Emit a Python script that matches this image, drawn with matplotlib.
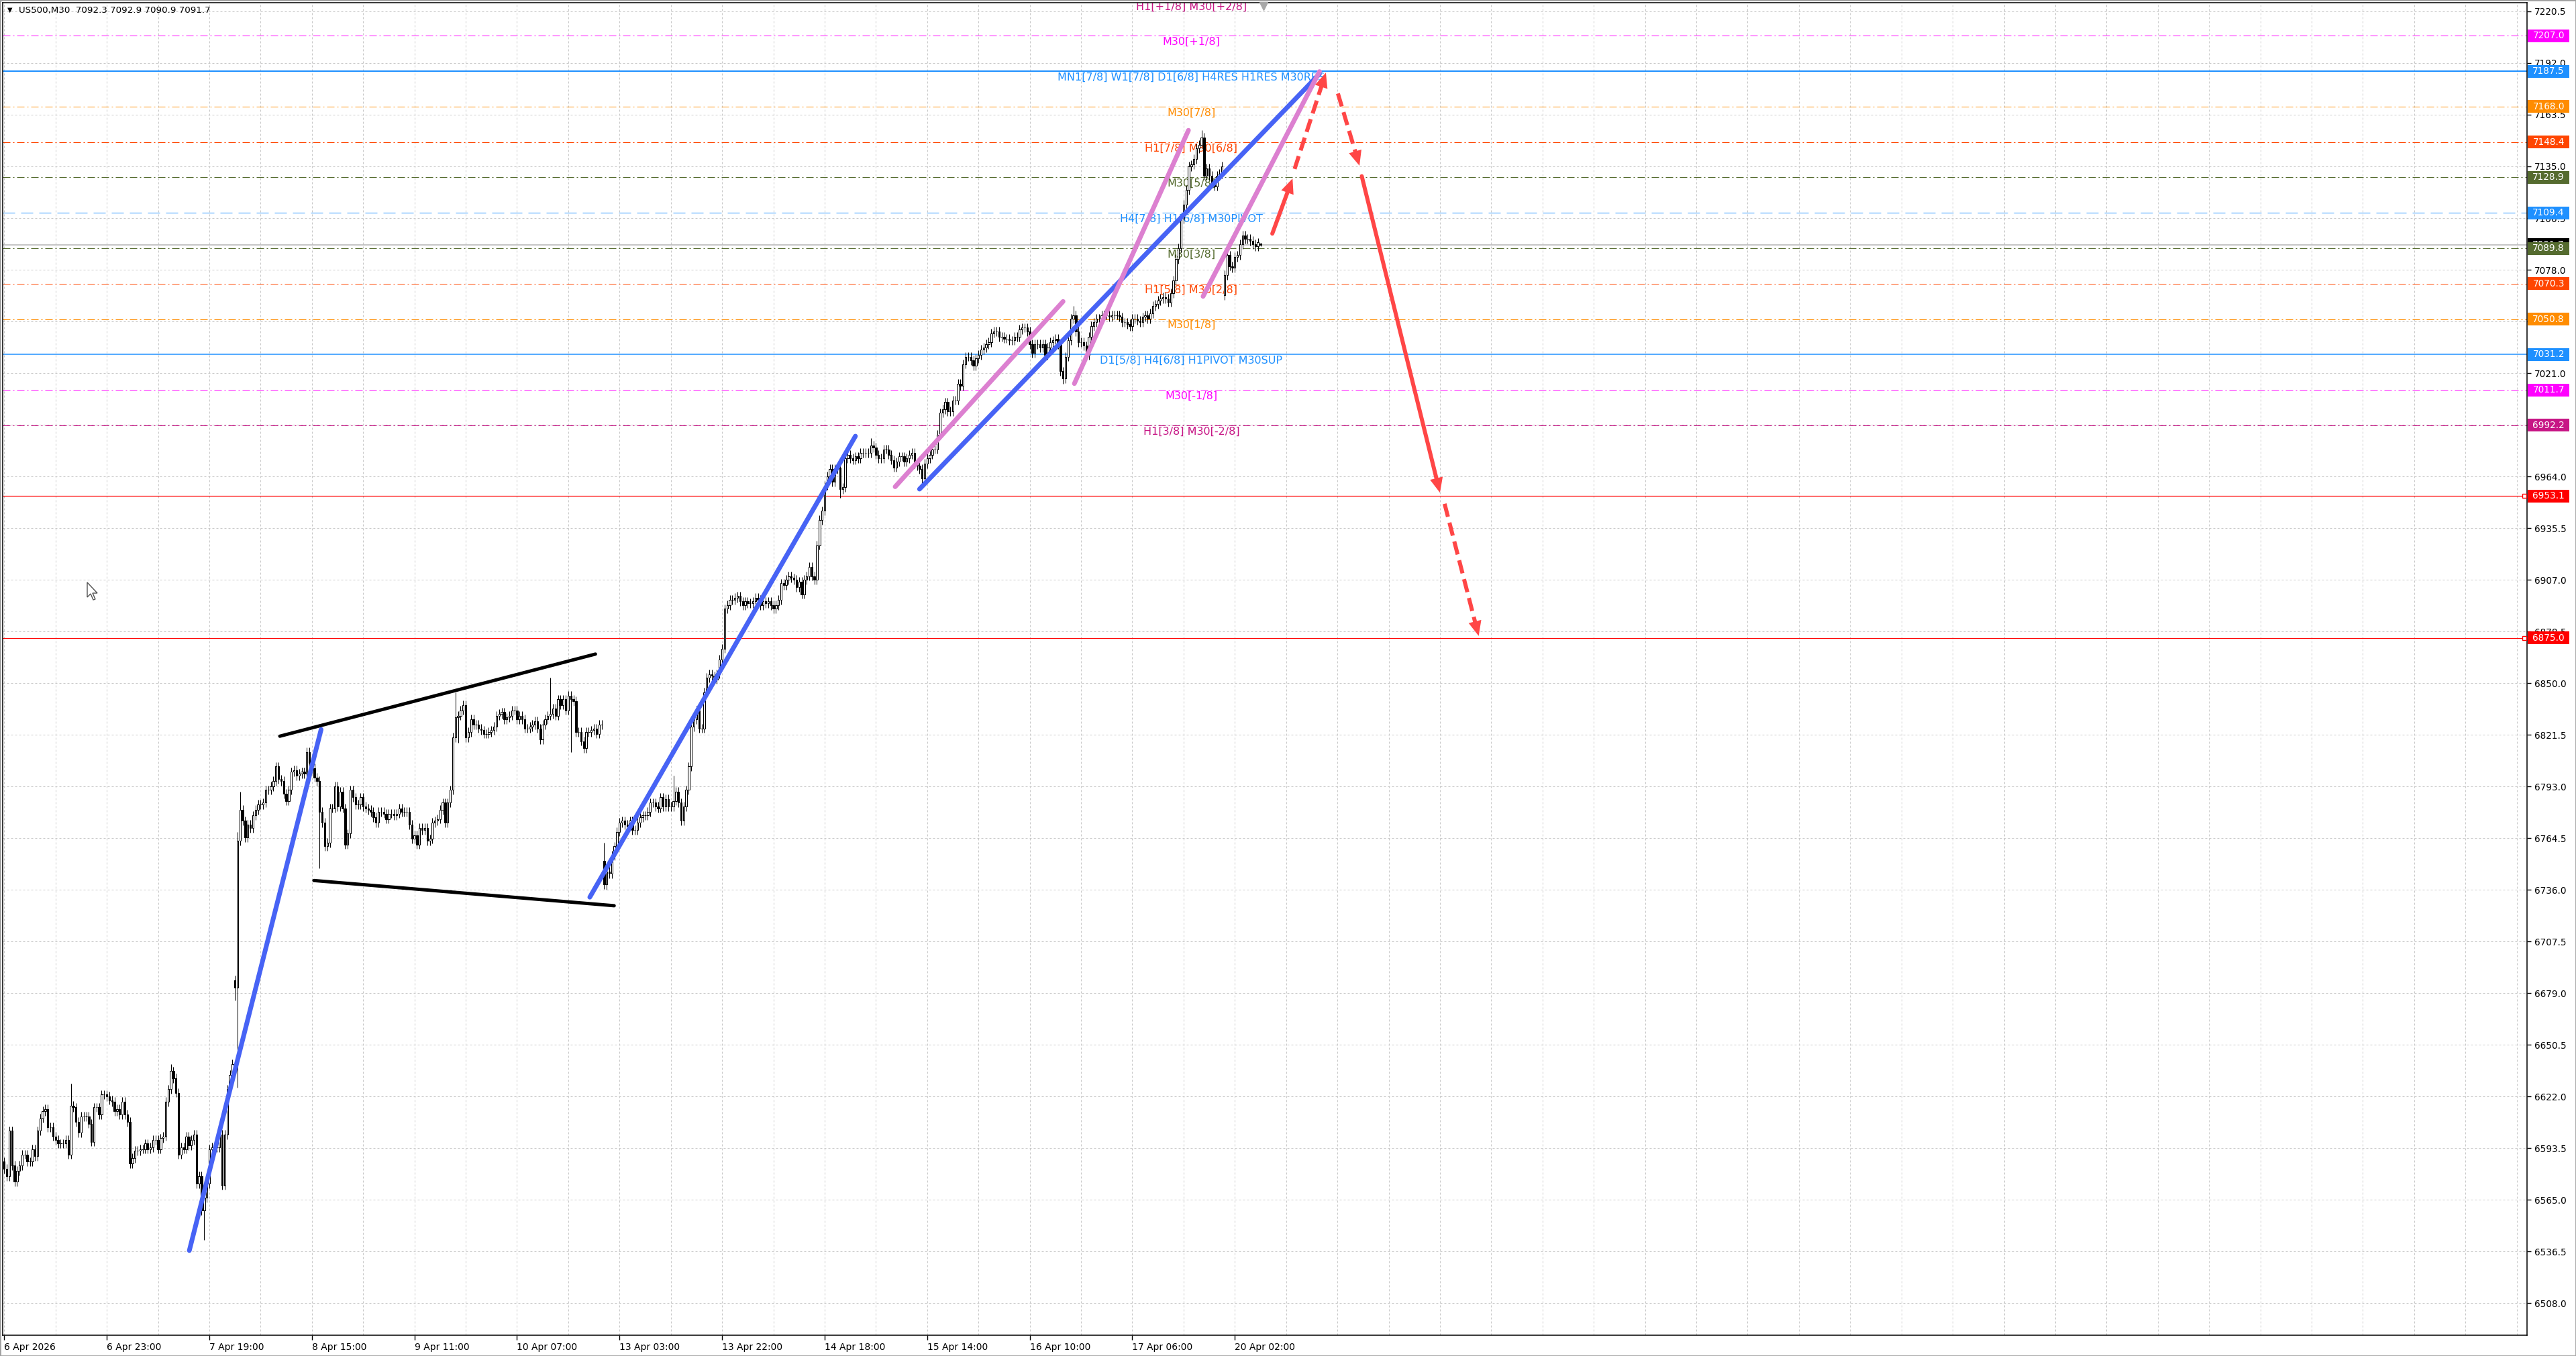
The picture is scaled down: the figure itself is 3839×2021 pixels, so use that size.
import numpy as np
import matplotlib
matplotlib.use("Agg")
import matplotlib.pyplot as plt
from matplotlib.patches import Rectangle, FancyArrowPatch, ArrowStyle, Polygon
from matplotlib.transforms import blended_transform_factory

plt.rcParams['font.family'] = ['DejaVu Sans']
plt.rcParams['lines.scale_dashes'] = False

W, H, DPI = 3839, 2021, 100
PX = 72.0 / DPI  # points per pixel

# ---------------- data ----------------
header_text = "US500,M30  7092.3 7092.9 7090.9 7091.7"

# closes, week of 6 Apr (bars 0..233)
week1_closes = [
    6582, 6578, 6603, 6584, 6575, 6581, 6584, 6590, 6590, 6586,
    6586, 6593, 6589, 6603, 6610, 6614, 6615, 6605, 6605, 6600,
    6598, 6596, 6596, 6596, 6598, 6590, 6617, 6616, 6608, 6602,
    6611, 6611, 6611, 6607, 6597, 6616, 6616, 6612, 6623, 6623,
    6622, 6620, 6619, 6614, 6615, 6612, 6619, 6612, 6608, 6585,
    6588, 6592, 6592, 6593, 6593, 6596, 6593, 6594, 6598, 6598,
    6593, 6599, 6600, 6619, 6626, 6636, 6632, 6624, 6590, 6594,
    6593, 6600, 6595, 6598, 6601, 6574, 6578, 6559, 6566, 6574,
    6593, 6594, 6594, 6594, 6601, 6573, 6601, 6626, 6634, 6640,
    6682, 6763,
    6780, 6774, 6765, 6772, 6770, 6777, 6780, 6783, 6783, 6784,
    6791, 6791, 6793, 6796, 6804, 6797, 6796, 6789, 6785, 6791,
    6801, 6802, 6799, 6800, 6801, 6800, 6812, 6806, 6803, 6798,
    6796, 6779, 6773, 6760, 6762, 6781, 6781, 6793, 6782, 6790,
    6781, 6761, 6767, 6791, 6787, 6783, 6783, 6787, 6782, 6781,
    6780, 6779, 6776, 6773, 6779, 6779, 6778, 6775, 6778, 6778,
    6777, 6778, 6781, 6779, 6779, 6779, 6772, 6764, 6766, 6761,
    6770, 6769, 6770, 6763, 6764, 6773, 6774, 6775, 6780, 6784,
    6773, 6784, 6791, 6820, 6831, 6832, 6835, 6838, 6820, 6823,
    6830, 6827, 6827, 6825, 6824, 6822, 6822, 6823, 6824, 6826,
    6832, 6833, 6834, 6830, 6831, 6832, 6835, 6835, 6830, 6832,
    6830, 6825, 6825, 6826, 6827, 6829, 6825, 6819, 6827, 6830,
    6832, 6833, 6836, 6832, 6841, 6838, 6841, 6835, 6843, 6841,
    6840, 6823, 6823, 6818, 6814, 6823, 6823, 6824, 6825, 6822,
    6827, 6827,
]
# closes, week of 13 Apr (bars 234..475)
week2_closes = [
    6739, 6746, 6745, 6755, 6760, 6768, 6773, 6774, 6772, 6771,
    6774, 6769, 6769, 6773, 6776, 6777, 6777, 6779, 6784, 6784,
    6782, 6781, 6787, 6782, 6786, 6782, 6782, 6785, 6790, 6784,
    6774, 6782, 6791, 6804, 6826, 6830, 6835, 6825, 6825, 6845,
    6853, 6855, 6854, 6852, 6855, 6863, 6869, 6891, 6893, 6896,
    6896, 6897, 6898, 6895, 6893, 6895, 6894, 6894, 6895, 6897,
    6896, 6893, 6895, 6894, 6895, 6893, 6891, 6893, 6896, 6905,
    6904, 6907, 6909, 6908, 6907, 6903, 6906, 6899, 6907, 6909,
    6914, 6909, 6907, 6926, 6940, 6945, 6959, 6964, 6968, 6961,
    6968, 6969, 6957, 6958, 6974, 6976, 6974, 6973, 6975, 6974,
    6977, 6977, 6977, 6977, 6981, 6980, 6976, 6974, 6974, 6979,
    6979, 6976, 6973, 6969,
    6972, 6975, 6975, 6972, 6974, 6976, 6977, 6971, 6970, 6968,
    6963, 6971, 6974, 6976, 6979, 6979, 6987, 6999, 7001, 7005,
    7000, 7000, 7006, 7006, 7015, 7014, 7026, 7030, 7030, 7028,
    7025, 7029, 7031, 7034, 7035, 7037, 7038, 7043, 7044, 7044,
    7041, 7041, 7040, 7040, 7039, 7039, 7041, 7041, 7045, 7046,
    7046, 7044, 7037, 7032, 7037, 7037, 7035, 7037, 7031, 7035,
    7038, 7039, 7040, 7037, 7022, 7018, 7030, 7039, 7051, 7053,
    7044, 7038, 7038, 7036, 7031, 7041, 7047, 7049, 7051, 7051,
    7053, 7053, 7053, 7052, 7053, 7053, 7053, 7052, 7049, 7049,
    7048, 7047, 7051, 7051, 7050, 7049, 7052, 7053, 7051, 7054,
    7058, 7059, 7061, 7062, 7063, 7062, 7060, 7065, 7072, 7084,
    7090, 7106, 7114, 7122, 7135, 7136, 7139, 7145, 7147, 7151,
    7130, 7134, 7130, 7126, 7124, 7130, 7131, 7135,
]
# closes, 20 Apr (bars 476..490)
week3_closes = [7075, 7086, 7080, 7079, 7085, 7086, 7092, 7097, 7095, 7095,
                7094, 7092, 7091, 7093, 7091.7]

# opens that differ from previous close (session gaps)
gap_opens = {0: 6586, 90: 6686, 234: 6752, 476: 7064, 490: 7092.3}
# notable wick extremes
wick_highs = {26: 6629, 65: 6640, 91: 6768, 92: 6790, 176: 6845, 213: 6853,
              234: 6762, 261: 6799, 338: 6985, 417: 7058, 467: 7155, 490: 7092.9}
wick_lows = {78: 6543, 90: 6675, 91: 6627, 123: 6748, 177: 6817, 221: 6812,
             235: 6736, 326: 6952, 358: 6960, 413: 7015, 476: 7061.5, 490: 7090.9}

date_tick_bars = [0, 40, 80, 120, 160, 200, 240, 280, 320, 360, 400, 440, 480]
date_labels = ["6 Apr 2026", "6 Apr 23:00", "7 Apr 19:00", "8 Apr 15:00",
               "9 Apr 11:00", "10 Apr 07:00", "13 Apr 03:00", "13 Apr 22:00",
               "14 Apr 18:00", "15 Apr 14:00", "16 Apr 10:00", "17 Apr 06:00",
               "20 Apr 02:00"]
price_ticks = [6508.0, 6536.5, 6565.0, 6593.5, 6622.0, 6650.5, 6679.0, 6707.5,
               6736.0, 6764.5, 6793.0, 6821.5, 6850.0, 6878.5, 6907.0, 6935.5,
               6964.0, 6992.5, 7021.0, 7049.5, 7078.0, 7106.5, 7135.0, 7163.5,
               7192.0, 7220.5]

# Murrey-math style levels
level_names = ["H1[+1/8] M30[+2/8]", "M30[+1/8]",
               "MN1[7/8] W1[7/8] D1[6/8] H4RES H1RES M30RES", "M30[7/8]",
               "H1[7/8] M30[6/8]", "M30[5/8]", "H4[7/8] H1[6/8] M30PIVOT",
               "M30[3/8]", "H1[5/8] M30[2/8]", "M30[1/8]",
               "D1[5/8] H4[6/8] H1PIVOT M30SUP", "M30[-1/8]", "H1[3/8] M30[-2/8]"]
level_prices = [7226.5, 7207.0, 7187.5, 7168.0, 7148.4, 7128.9, 7109.4,
                7089.8, 7070.3, 7050.8, 7031.2, 7011.7, 6992.2]
level_colors = ["#C71585", "#FF00FF", "#1E90FF", "#FF8C00", "#FF4500", "#556B2F",
                "#1E90FF", "#556B2F", "#FF4500", "#FF8C00", "#1E90FF", "#FF00FF",
                "#C71585"]
level_styles = ["dashdot", "dashdot", "solid", "dashdot", "dashdot", "dashdot",
                "dashed", "dashdot", "dashdot", "dashdot", "solid", "dashdot",
                "dashdot"]

red_level_prices = [6953.1, 6875.0]
bid_price = 7091.7

blue_trendlines = [((72.2, 6537.0), (123.6, 6824.4)),
                   ((228.4, 6731.9), (332.0, 6986.2)),
                   ((357.0, 6957.0), (513.0, 7186.0))]
pink_trendlines = [((347.5, 6958.3), (413.0, 7060.5)),
                   ((417.4, 7015.2), (461.9, 7154.9)),
                   ((467.6, 7063.3), (513.0, 7187.3))]
black_trendlines = [((107.5, 6820.7), (230.6, 6866.0)),
                    ((120.8, 6741.1), (237.9, 6727.2))]
red_arrows_solid = [((494.6, 7097.9), (502.5, 7128.3)),
                    ((529.5, 7129.6), (560.0, 6955.0))]
red_arrows_dashed = [((503.3, 7133.6), (515.5, 7186.7)),
                     ((520.2, 7175.2), (528.6, 7135.4)),
                     ((561.8, 6948.9), (575.1, 6876.0))]

# ---------------- figure ----------------
fig = plt.figure(figsize=(W / DPI, H / DPI), dpi=DPI)
fig.patch.set_facecolor("white")
ax_l, ax_r, ax_t, ax_b = 4, 3766, 4, 1990
ax = fig.add_axes([ax_l / W, 1 - ax_b / H, (ax_r - ax_l) / W, (ax_b - ax_t) / H])
ax.set_facecolor("white")
ax.set_xlim(-0.6, 984)
ax.set_ylim(6490.3, 7225.3)
for s in ax.spines.values():
    s.set_color("black")
    s.set_linewidth(1.1)

bt = blended_transform_factory(ax.transAxes, ax.transData)

# grid
grid_kw = dict(color="#C8C8C8", lw=1 * PX, dashes=(3 * PX, 3 * PX), zorder=0.5)
for b in range(0, 981, 20):
    ax.axvline(b, **grid_kw)
for p in price_ticks:
    ax.axhline(p, **grid_kw)

# level lines and labels
style_dashes = {"dashdot": (11 * PX, 4 * PX, 2 * PX, 4 * PX),
                "dashed": (18 * PX, 9 * PX)}
label_bar = 463
for name, p, c, st in zip(level_names, level_prices, level_colors, level_styles):
    lw = 2 * PX if name.startswith("MN1") else (1.5 * PX if st == "solid" else 1 * PX)
    if st == "solid":
        ax.axhline(p, color=c, lw=lw, zorder=1)
    else:
        ax.axhline(p, color=c, lw=lw, dashes=style_dashes[st], zorder=1)
    ax.text(label_bar, p - 0.6, name, color=c, fontsize=11.5, ha="center", va="top",
            zorder=1.5, clip_on=True)

# bid line
ax.axhline(bid_price, color="#B4B4B4", lw=1.5 * PX, zorder=1)
# red horizontal lines
for p in red_level_prices:
    ax.axhline(p, color="#FF0000", lw=1.2 * PX, zorder=1.2)
    ax.plot([0.999], [p], marker="s", ms=4, mfc="white", mec="#FF0000", mew=1,
            transform=bt, clip_on=False, zorder=4)

# ---------------- candles ----------------
closes = np.array(week1_closes + week2_closes + week3_closes, dtype=float)
n = len(closes)
opens = np.empty(n)
opens[1:] = closes[:-1]
for k, v in gap_opens.items():
    opens[k] = v
wick = 2.5
highs = np.maximum(opens, closes) + wick
lows = np.minimum(opens, closes) - wick
for k, v in wick_highs.items():
    highs[k] = v
for k, v in wick_lows.items():
    lows[k] = v
xs = np.arange(n)
ax.vlines(xs, lows, highs, color="black", lw=1 * PX, zorder=2)
up = closes >= opens
body_h = closes - opens
ax.bar(xs[up], body_h[up], bottom=opens[up], width=0.62, facecolor="white",
       edgecolor="black", linewidth=1 * PX, zorder=2.2)
ax.bar(xs[~up], body_h[~up], bottom=opens[~up], width=0.62, facecolor="black",
       edgecolor="black", linewidth=1 * PX, zorder=2.2)

# ---------------- drawn objects ----------------
for (a, b) in blue_trendlines:
    ax.plot([a[0], b[0]], [a[1], b[1]], color="#4763F5", lw=7 * PX,
            solid_capstyle="round", zorder=3)
for (a, b) in pink_trendlines:
    ax.plot([a[0], b[0]], [a[1], b[1]], color="#DC80D0", lw=7 * PX,
            solid_capstyle="round", zorder=3)
for (a, b) in black_trendlines:
    ax.plot([a[0], b[0]], [a[1], b[1]], color="black", lw=5 * PX,
            solid_capstyle="round", zorder=3)

RED = "#FF4646"
fig.canvas.draw()
head_len_pt, head_half_pt = 16.0, 7.0


def draw_arrow(start, tip, dashed):
    p0 = ax.transData.transform(start)
    p1 = ax.transData.transform(tip)
    d = p1 - p0
    L = np.hypot(*d)
    u = d / L
    shaft_end_disp = p1 - u * (head_len_pt / PX) * 0.8
    shaft_end = ax.transData.inverted().transform(shaft_end_disp)
    back = ax.transData.inverted().transform(p1 - u * 40)
    if dashed:
        ax.plot([start[0], shaft_end[0]], [start[1], shaft_end[1]], color=RED,
                lw=6 * PX, dashes=(20 * PX, 9 * PX), dash_capstyle="butt", zorder=3.5)
    else:
        ax.plot([start[0], shaft_end[0]], [start[1], shaft_end[1]], color=RED,
                lw=6 * PX, solid_capstyle="round", zorder=3.5)
    arr = FancyArrowPatch(posA=tuple(back), posB=tuple(tip),
                          arrowstyle=ArrowStyle("-|>", head_length=head_len_pt,
                                                head_width=head_half_pt),
                          mutation_scale=1, lw=0, color=RED, shrinkA=0, shrinkB=0,
                          zorder=3.6)
    ax.add_patch(arr)


for s, t in red_arrows_solid:
    draw_arrow(s, t, False)
for s, t in red_arrows_dashed:
    draw_arrow(s, t, True)

# chart shift marker
ax.plot([n + 0.3], [0.9975], marker="v", ms=9, color="#A8A8A8", transform=
        blended_transform_factory(ax.transData, ax.transAxes), clip_on=False, zorder=5)

# ---------------- axes ticks ----------------
ax.yaxis.tick_right()
ax.set_yticks(price_ticks)
ax.set_yticklabels([f"{p:.1f}" for p in price_ticks])
ax.tick_params(axis="y", which="major", direction="out", length=4, width=1,
               pad=4, labelsize=9.8, colors="black")
ax.set_xticks(date_tick_bars)
ax.set_xticklabels(date_labels, ha="left")
ax.tick_params(axis="x", which="major", direction="out", length=5, width=1,
               pad=3, labelsize=10, colors="black")

# right-side price boxes
box_w = 62 / (ax_r - ax_l)
box_h = 19 / ((ax_b - ax_t) / (7225.3 - 6490.3))
box_items = [(p, c) for p, c in zip(level_prices, level_colors) if p < 7224]
box_items += [(p, "#FF0000") for p in red_level_prices]
# bid box sits underneath the level boxes
ax.add_patch(Rectangle((1.0003, bid_price - box_h / 2), box_w, box_h, transform=bt,
                       facecolor="black", edgecolor="none", clip_on=False, zorder=6))
ax.text(1.0003 + box_w / 2, bid_price, f"{bid_price:.1f}", transform=bt, color="white",
        fontsize=9.8, ha="center", va="center", clip_on=False, zorder=6.1)
for p, c in box_items:
    ax.add_patch(Rectangle((1.0003, p - box_h / 2), box_w, box_h, transform=bt,
                           facecolor=c, edgecolor="none", clip_on=False, zorder=6.5))
    ax.text(1.0003 + box_w / 2, p, f"{p:.1f}", transform=bt, color="white",
            fontsize=9.8, ha="center", va="center", clip_on=False, zorder=6.6)

# header
fig.text(11 / W, 1 - 15 / H, "\u25BC", fontsize=7, va="center", ha="left")
fig.text(28 / W, 1 - 15 / H, header_text, fontsize=9.6, va="center", ha="left")

# mouse cursor glyph
cur = np.array([(0, 0), (0, 22), (5, 17), (9, 26), (12, 25), (8, 16), (15, 16)], float)
cur_x = (130 + cur[:, 0] * 1.0) / W
cur_y = 1 - (868 + cur[:, 1] * 1.0) / H
fig.add_artist(Polygon(np.column_stack([cur_x, cur_y]), closed=True,
                       transform=fig.transFigure, facecolor="white",
                       edgecolor="#505050", lw=1))

# outer frame
fig.add_artist(Rectangle((0, 0), 1, 1, transform=fig.transFigure, fill=False,
                         edgecolor="#A0A0A0", lw=2))

fig.savefig("out.png", dpi=DPI, facecolor="white")
